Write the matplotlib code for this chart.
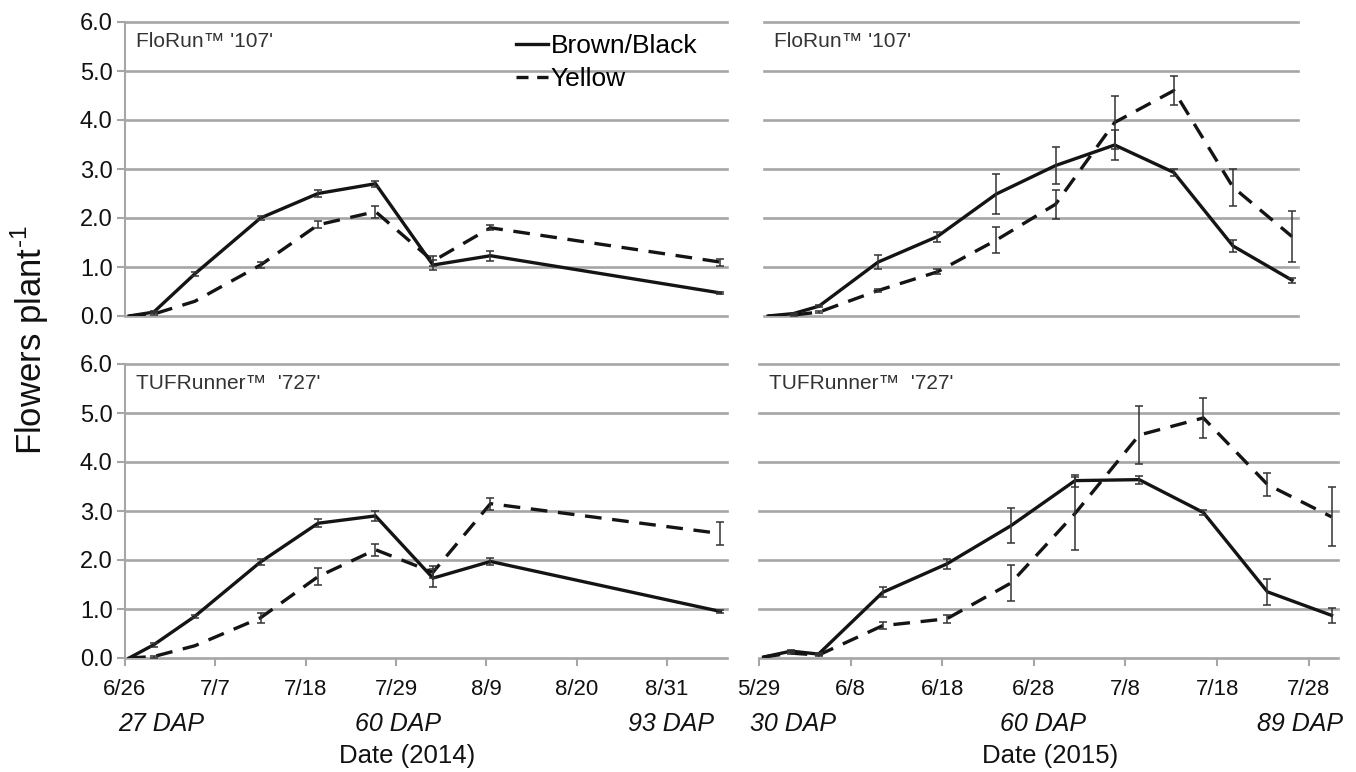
import numpy as np
import pandas as pd
import matplotlib
matplotlib.use("Agg")
import matplotlib.pyplot as plt
from matplotlib.lines import Line2D

plt.rcParams['font.family'] = ['Liberation Sans', 'DejaVu Sans']

# ---------------- data ----------------
dates_2014 = ['2014-06-26', '2014-06-29', '2014-07-04', '2014-07-12', '2014-07-19',
              '2014-07-26', '2014-08-02', '2014-08-09', '2014-09-06']
florun_2014_brown = [0.0, 0.08, 0.86, 2.00, 2.50, 2.70, 1.04, 1.23, 0.47]
florun_2014_brown_err = [0, 0.02, 0.04, 0.05, 0.08, 0.06, 0.10, 0.10, 0.02]
florun_2014_yellow = [0.0, 0.04, 0.30, 1.04, 1.86, 2.13, 1.12, 1.80, 1.10]
florun_2014_yellow_err = [0, 0.02, 0, 0.06, 0.07, 0.12, 0.10, 0.05, 0.07]
tuf_2014_brown = [0.0, 0.27, 0.85, 1.96, 2.75, 2.90, 1.63, 1.97, 0.95]
tuf_2014_brown_err = [0, 0.04, 0.03, 0.07, 0.08, 0.10, 0.18, 0.08, 0.03]
tuf_2014_yellow = [0.0, 0.03, 0.25, 0.82, 1.66, 2.21, 1.75, 3.15, 2.54]
tuf_2014_yellow_err = [0, 0.02, 0, 0.10, 0.17, 0.12, 0.12, 0.12, 0.23]

dates_2015 = ['2015-05-29', '2015-06-01', '2015-06-04', '2015-06-11', '2015-06-18',
              '2015-06-25', '2015-07-02', '2015-07-09', '2015-07-16', '2015-07-23',
              '2015-07-30']
florun_2015_brown = [0.0, 0.05, 0.20, 1.10, 1.62, 2.49, 3.07, 3.49, 2.93, 1.43, 0.73]
florun_2015_brown_err = [0, 0.01, 0.02, 0.15, 0.10, 0.40, 0.37, 0.30, 0.07, 0.12, 0.05]
florun_2015_yellow = [0.0, 0.02, 0.08, 0.52, 0.90, 1.55, 2.28, 3.95, 4.60, 2.63, 1.62]
florun_2015_yellow_err = [0, 0.01, 0.02, 0.04, 0.05, 0.27, 0.30, 0.55, 0.30, 0.38, 0.52]
tuf_2015_brown = [0.02, 0.14, 0.08, 1.34, 1.92, 2.70, 3.62, 3.64, 2.97, 1.35, 0.87]
tuf_2015_brown_err = [0, 0.02, 0.02, 0.10, 0.10, 0.36, 0.12, 0.08, 0.05, 0.26, 0.15]
tuf_2015_yellow = [0.02, 0.10, 0.06, 0.66, 0.80, 1.53, 2.95, 4.55, 4.90, 3.54, 2.88]
tuf_2015_yellow_err = [0, 0.02, 0.02, 0.07, 0.08, 0.37, 0.74, 0.60, 0.40, 0.23, 0.60]

ticks_2014 = ['2014-06-26', '2014-07-07', '2014-07-18', '2014-07-29', '2014-08-09',
              '2014-08-20', '2014-08-31']
ticks_2015 = ['2015-05-29', '2015-06-08', '2015-06-18', '2015-06-28', '2015-07-08',
              '2015-07-18', '2015-07-28']
yticks = [0, 1, 2, 3, 4, 5, 6]

series_labels = ['Brown/Black', 'Yellow']
panel_labels = ["FloRun\u2122 '107'", "TUFRunner\u2122  '727'"]
dap_2014 = ['27 DAP', '60 DAP', '93 DAP']
dap_2015 = ['30 DAP', '60 DAP', '89 DAP']
xlabels = ['Date (2014)', 'Date (2015)']
ylabel_main = 'Flowers plant'
ylabel_sup = '-1'

# ---------------- style ----------------
W, H = 1356, 772
GRID = '#a6a6a6'
INK = '#141414'
HALF_DAY = pd.Timedelta(hours=12)

fig = plt.figure(figsize=(W / 100, H / 100), dpi=100)


def box(l, t, r, b):
    return [l / W, 1 - b / H, (r - l) / W, (b - t) / H]


ax_tl = fig.add_axes(box(125, 22, 727, 316))
ax_bl = fig.add_axes(box(125, 364, 727, 658))
ax_tr = fig.add_axes(box(764, 22, 1298, 316))
ax_br = fig.add_axes(box(759, 364, 1338, 658))


def draw(ax, dates, brown, brown_err, yellow, yellow_err, start, span_days,
         ticks, left_axis, bottom_ticks, label):
    x = pd.to_datetime(dates) + HALF_DAY
    for yv in yticks:
        ax.axhline(yv, color=GRID, lw=1.9, zorder=0, clip_on=False)
    b = np.array(brown); be = np.array(brown_err)
    yl = np.array(yellow); ye = np.array(yellow_err)
    ax.plot(x, b, color=INK, lw=2.4, solid_joinstyle='miter', zorder=3)
    ax.plot(x, yl, color=INK, lw=2.4, dashes=(5, 3.2), zorder=3)
    mb = be > 0
    ax.errorbar(x[mb], b[mb], yerr=be[mb], fmt='none', ecolor='#333333',
                elinewidth=1.1, capsize=3, capthick=1.1, zorder=4)
    my = ye > 0
    ax.errorbar(x[my], yl[my], yerr=ye[my], fmt='none', ecolor='#333333',
                elinewidth=1.1, capsize=3, capthick=1.1, zorder=4)
    s = pd.Timestamp(start)
    ax.set_xlim(s, s + pd.Timedelta(days=span_days))
    ax.set_ylim(0, 6)
    for sp in ax.spines.values():
        sp.set_visible(False)
    if left_axis:
        ax.spines['left'].set_visible(True)
        ax.spines['left'].set_color(GRID)
        ax.spines['left'].set_linewidth(1.5)
        ax.set_yticks(yticks)
        ax.set_yticklabels([f'{v:.1f}' for v in yticks], fontsize=17,
                           color='#111111')
        ax.tick_params(axis='y', length=6, width=1.5, color=GRID, pad=3)
    else:
        ax.set_yticks([])
    if bottom_ticks:
        td = pd.to_datetime(ticks)
        ax.set_xticks(td)
        ax.set_xticklabels([f'{d.month}/{d.day}' for d in td], fontsize=16,
                           color='#111111')
        ax.tick_params(axis='x', length=6, width=1.5, color=GRID, pad=9,
                       direction='out')
    else:
        ax.set_xticks([])
    ax.patch.set_alpha(0)
    ax.text(0.018, 0.935, label, transform=ax.transAxes, fontsize=15,
            color='#333333', va='center', ha='left')


draw(ax_tl, dates_2014, florun_2014_brown, florun_2014_brown_err,
     florun_2014_yellow, florun_2014_yellow_err, '2014-06-26', 73.3,
     ticks_2014, True, False, panel_labels[0])
draw(ax_bl, dates_2014, tuf_2014_brown, tuf_2014_brown_err,
     tuf_2014_yellow, tuf_2014_yellow_err, '2014-06-26', 73.3,
     ticks_2014, True, True, panel_labels[1])
draw(ax_tr, dates_2015, florun_2015_brown, florun_2015_brown_err,
     florun_2015_yellow, florun_2015_yellow_err, '2015-05-29', 63.2,
     ticks_2015, False, False, panel_labels[0])
draw(ax_br, dates_2015, tuf_2015_brown, tuf_2015_brown_err,
     tuf_2015_yellow, tuf_2015_yellow_err, '2015-05-29', 63.2,
     ticks_2015, False, True, panel_labels[1])

# legend
handles = [Line2D([], [], color=INK, lw=2.4),
           Line2D([], [], color=INK, lw=2.4, dashes=(3.6, 2.6))]
ax_tl.legend(handles, series_labels, loc='upper left',
             bbox_to_anchor=((516 - 125) / 602, 1 - (34 - 22) / 294),
             frameon=False, fontsize=19, handlelength=1.2, handletextpad=0.12,
             labelspacing=0.35, borderaxespad=0, borderpad=0)

# DAP annotations and axis titles
for txt, px in zip(dap_2014, [161, 398, 671]):
    fig.text(px / W, 1 - 724 / H, txt, fontsize=18, style='italic',
             ha='center', va='center', color='#111111')
for txt, px in zip(dap_2015, [793, 1043, 1300]):
    fig.text(px / W, 1 - 724 / H, txt, fontsize=18, style='italic',
             ha='center', va='center', color='#111111')
fig.text(407 / W, 1 - 756 / H, xlabels[0], fontsize=18.5, ha='center',
         va='center', color='#111111')
fig.text(1050 / W, 1 - 756 / H, xlabels[1], fontsize=18.5, ha='center',
         va='center', color='#111111')
fig.text(30 / W, 1 - 340 / H, ylabel_main + '$^{\\mathregular{' + ylabel_sup.replace('-', '\u2010') + '}}$',
         fontsize=25, rotation=90, ha='center', va='center', color='#111111')

fig.savefig('out.png', dpi=100, facecolor='white')
